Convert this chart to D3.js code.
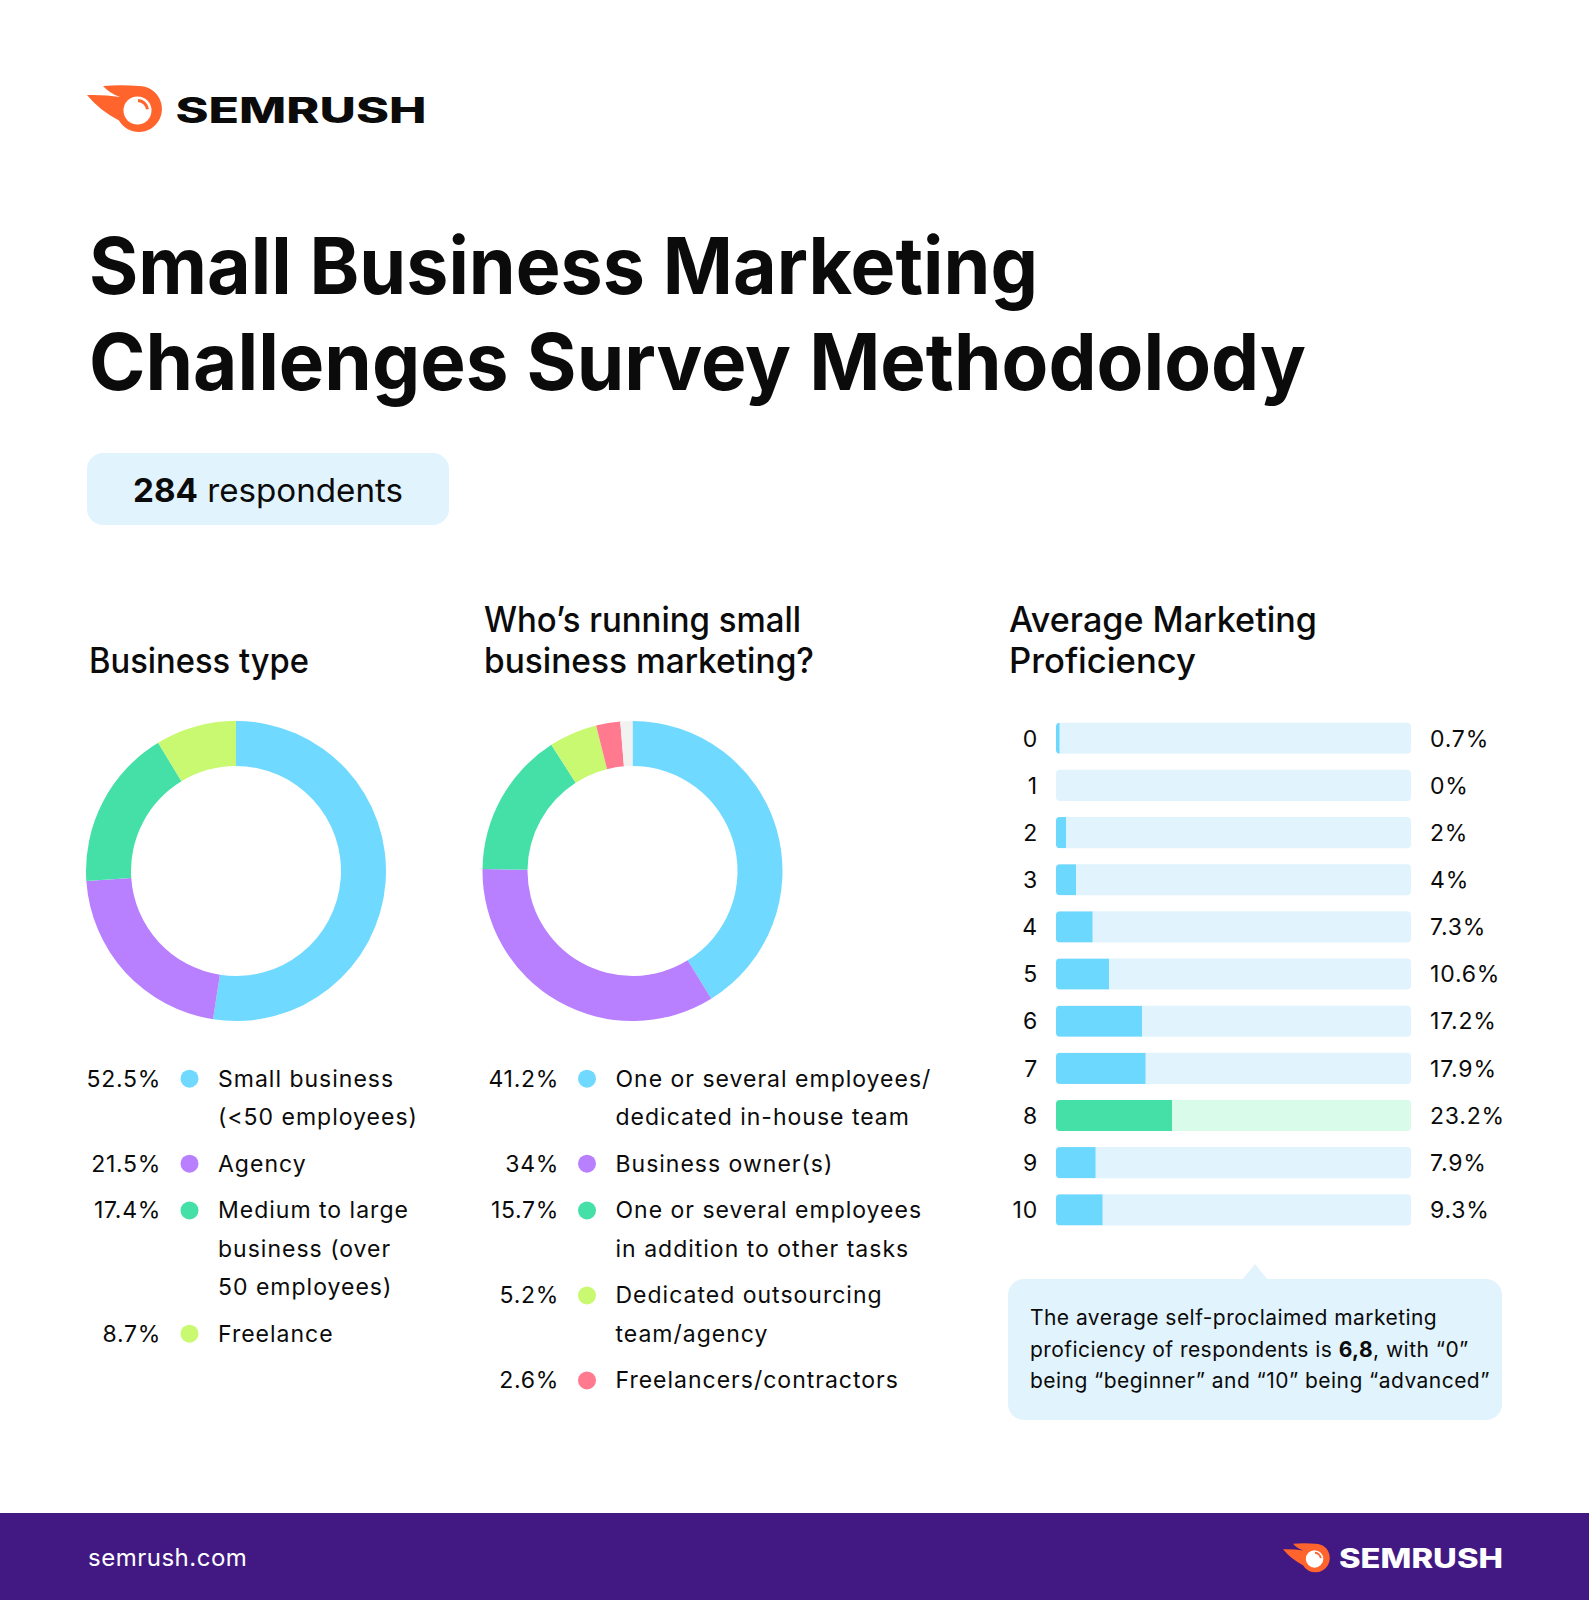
<!DOCTYPE html>
<html><head><meta charset="utf-8">
<script src="https://cdn.jsdelivr.net/npm/d3@7"></script>
<style>
body{margin:0;background:#fff;}
svg{display:block;font-family:Inter,"Noto Sans",sans-serif;}
</style>
</head><body>
<svg id="c" width="1589" height="1600"></svg>
<script>
// ---------- data ----------
const businessLabels = ["Small business\n(<50 employees)", "Agency", "Medium to large\nbusiness (over\n50 employees)", "Freelance"];
const businessValues = [52.5, 21.5, 17.4, 8.7];
const businessColors = ["#6fd9ff", "#b880ff", "#45e0a8", "#c8f970"];

const runnerLabels = ["One or several employees/\ndedicated in-house team", "Business owner(s)", "One or several employees\nin addition to other tasks", "Dedicated outsourcing\nteam/agency", "Freelancers/contractors"];
const runnerValues = [41.2, 34, 15.7, 5.2, 2.6];
const runnerColors = ["#6fd9ff", "#b880ff", "#45e0a8", "#c8f970", "#ff7a8e"];
const runnerUnlabelled = 1.3;          // small grey gap at the top of the ring
const unlabelledColor = "#f2f2f2";

const proficiencyLevels = ["0", "1", "2", "3", "4", "5", "6", "7", "8", "9", "10"];
const proficiencyValues = [0.7, 0, 2, 4, 7.3, 10.6, 17.2, 17.9, 23.2, 7.9, 9.3];
const highlightedLevel = "8";

const titleLines = ["Small Business Marketing", "Challenges Survey Methodolody"];
const respondents = 284;
const calloutLines = [
  [["The average self-proclaimed marketing", 400]],
  [["proficiency of respondents is ", 400], ["6,8", 700], [", with “0”", 400]],
  [["being “beginner” and “10” being “advanced”", 400]]
];

// ---------- drawing ----------
const svg = d3.select("#c");
const ORANGE = "#ff642d", INK = "#0b0b0b";

function logo(g) {
  g.append("path").attr("fill", ORANGE)
    .attr("d", "M16,1 Q34,-0.5 52,1 A23,23 0 1 1 32,35.5 Q12,25 0,10 Q18,9.5 33,12 Q22,8 16,1 Z");
  g.append("circle").attr("cx", 50.5).attr("cy", 25.5).attr("r", 14).attr("fill", "#fff");
  const a = d3.arc()({innerRadius: 8.5, outerRadius: 11.5, startAngle: 0.05, endAngle: 1.45});
  g.append("path").attr("d", a).attr("fill", ORANGE).attr("transform", "translate(50.5,25.5)");
}
// header logo
logo(svg.append("g").attr("transform", "translate(87,85)"));
svg.append("text").attr("x", 175.5).attr("y", 123).attr("font-size", 35).attr("font-weight", 800)
  .attr("fill", INK).attr("textLength", 251).attr("lengthAdjust", "spacingAndGlyphs").text("SEMRUSH");

// title
const titleW = [949, 1217];
titleLines.forEach((t, i) => {
  svg.append("text").attr("x", 89).attr("y", 294 + i * 96).attr("font-size", 79).attr("font-weight", 700)
    .attr("fill", INK).attr("textLength", titleW[i]).attr("lengthAdjust", "spacingAndGlyphs").text(t);
});

// respondents pill
svg.append("rect").attr("x", 87).attr("y", 453).attr("width", 362).attr("height", 72).attr("rx", 16).attr("fill", "#e1f3fd");
const rt = svg.append("text").attr("x", 133).attr("y", 502).attr("font-size", 33).attr("fill", INK)
  .attr("textLength", 270).attr("lengthAdjust", "spacingAndGlyphs");
rt.append("tspan").attr("font-weight", 700).text(respondents);
rt.append("tspan").text(" respondents");

// section headings
function heading(x, lines, widths) {
  lines.forEach((t, i) => {
    svg.append("text").attr("x", x).attr("y", 673 - (lines.length - 1 - i) * 41).attr("font-size", 35)
      .attr("font-weight", 500).attr("fill", INK)
      .attr("textLength", widths[i]).attr("lengthAdjust", "spacingAndGlyphs").text(t);
  });
}
heading(89, ["Business type"], [220]);
heading(484, ["Who’s running small", "business marketing?"], [317, 330]);
heading(1009, ["Average Marketing", "Proficiency"], [308, 187]);

// donuts
function donut(cx, cy, values, colors) {
  const pie = d3.pie().sort(null).value(d => d.v);
  const arc = d3.arc().innerRadius(105).outerRadius(150);
  const g = svg.append("g").attr("transform", `translate(${cx},${cy})`);
  g.selectAll("path").data(pie(values.map((v, i) => ({v, c: colors[i]})))).join("path")
    .attr("d", arc).attr("fill", d => d.data.c);
}
donut(236, 871, businessValues, businessColors);
donut(632.5, 871, [...runnerValues, runnerUnlabelled], [...runnerColors, unlabelledColor]);

// legends
function legend(px, dotDx, labDx, labels, values, colors) {
  let y = 1086.7;
  labels.forEach((lab, i) => {
    const lines = lab.split("\n");
    svg.append("text").attr("x", px).attr("y", y).attr("text-anchor", "end").attr("font-size", 23)
      .attr("letter-spacing", 0.7).attr("fill", INK).text(values[i] + "%");
    svg.append("circle").attr("cx", px + dotDx).attr("cy", y - 8).attr("r", 9).attr("fill", colors[i]);
    lines.forEach((ln, j) => {
      svg.append("text").attr("x", px + labDx).attr("y", y + j * 38.3).attr("font-size", 23)
        .attr("letter-spacing", 1).attr("fill", INK).text(ln);
    });
    y += (lines.length - 1) * 38.3 + 46.7;
  });
}
legend(161, 28.5, 57, businessLabels, businessValues, businessColors);
legend(559, 28, 56.5, runnerLabels, runnerValues, runnerColors);

// proficiency bars
const x = d3.scaleLinear().domain([0, 71]).range([1056, 1411]);
const y = d3.scaleBand().domain(proficiencyLevels).range([714.7, 1233.4]).paddingInner(0.34).paddingOuter(0.17);
const rows = svg.append("g").selectAll("g").data(proficiencyLevels.map((l, i) => ({l, v: proficiencyValues[i]}))).join("g");
rows.append("clipPath").attr("id", (d, i) => "clip" + i)
  .append("rect").attr("x", x(0)).attr("y", d => y(d.l)).attr("width", x.range()[1] - x(0))
  .attr("height", y.bandwidth()).attr("rx", 4);
rows.append("rect").attr("x", x(0)).attr("y", d => y(d.l)).attr("width", x.range()[1] - x(0))
  .attr("height", y.bandwidth()).attr("rx", 4)
  .attr("fill", d => d.l === highlightedLevel ? "#d9fbe9" : "#e1f3fd");
rows.append("rect").attr("clip-path", (d, i) => `url(#clip${i})`)
  .attr("x", x(0)).attr("y", d => y(d.l)).attr("width", d => x(d.v) - x(0)).attr("height", y.bandwidth())
  .attr("fill", d => d.l === highlightedLevel ? "#45e0a8" : "#6dd8fe");
rows.append("text").attr("x", 1038).attr("y", d => y(d.l) + y.bandwidth() / 2).attr("dy", "0.36em")
  .attr("text-anchor", "end").attr("font-size", 23).attr("letter-spacing", 0.8).attr("fill", INK).text(d => d.l);
rows.append("text").attr("x", 1430).attr("y", d => y(d.l) + y.bandwidth() / 2).attr("dy", "0.36em")
  .attr("font-size", 23).attr("letter-spacing", 0.8).attr("fill", INK).text(d => d.v + "%");

// callout
svg.append("rect").attr("x", 1008).attr("y", 1279).attr("width", 494).attr("height", 141).attr("rx", 16).attr("fill", "#e1f3fd");
svg.append("path").attr("d", "M1242,1280 L1255,1264 L1268,1280 Z").attr("fill", "#e1f3fd");
calloutLines.forEach((parts, i) => {
  const t = svg.append("text").attr("x", 1030).attr("y", 1325 + i * 31.7).attr("font-size", 21)
    .attr("letter-spacing", 0.45).attr("fill", INK);
  parts.forEach(p => t.append("tspan").attr("font-weight", p[1]).text(p[0]));
});

// footer
svg.append("rect").attr("x", 0).attr("y", 1513).attr("width", 1589).attr("height", 87).attr("fill", "#421983");
svg.append("text").attr("x", 88).attr("y", 1566).attr("font-size", 24).attr("letter-spacing", 0.5).attr("fill", "#fff").text("semrush.com");
logo(svg.append("g").attr("transform", "translate(1283,1543) scale(0.625)"));
svg.append("text").attr("x", 1339).attr("y", 1568).attr("font-size", 27).attr("font-weight", 800)
  .attr("fill", "#fff").attr("textLength", 164).attr("lengthAdjust", "spacingAndGlyphs").text("SEMRUSH");
</script>
</body></html>
